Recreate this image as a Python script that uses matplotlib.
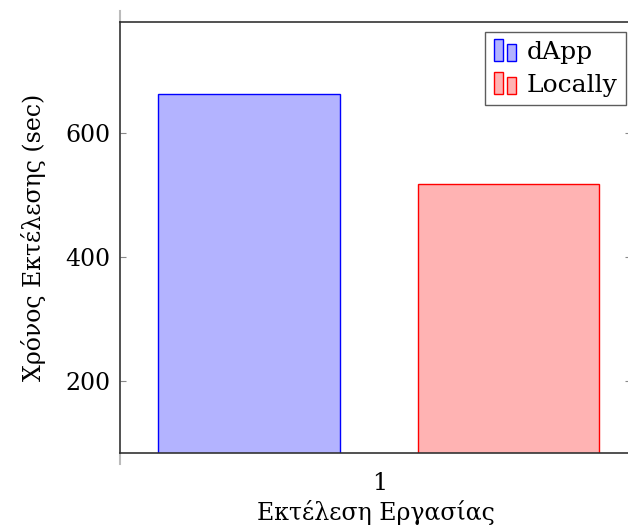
import matplotlib
matplotlib.use("Agg")
import matplotlib.pyplot as plt
from matplotlib.patches import Rectangle
from matplotlib.legend_handler import HandlerBase

plt.rcParams['font.family'] = ['DejaVu Serif']

series = ["dApp", "Locally"]
values = [663, 518]
fills = ["#B3B3FF", "#FFB3B3"]
edges = ["#0000FF", "#FF0000"]
x_cat = [1]
offsets = [-0.2564, 0.2515]


class TwoBarHandler(HandlerBase):
    def create_artists(self, legend, orig, xd, yd, width, height, fontsize, trans):
        w = width * 0.32
        r1 = Rectangle((xd, yd - height * 0.15), w, height * 1.3,
                       facecolor=orig.get_facecolor(), edgecolor=orig.get_edgecolor(), lw=1, transform=trans)
        r2 = Rectangle((xd + w * 1.5, yd - height * 0.15), w, height * 1.0,
                       facecolor=orig.get_facecolor(), edgecolor=orig.get_edgecolor(), lw=1, transform=trans)
        return [r1, r2]


fig = plt.figure(figsize=(6.28, 5.26), dpi=100)
ax = fig.add_axes([120 / 628, (526 - 453) / 526, 511 / 628, (453 - 22) / 526])

handles = []
for i, name in enumerate(series):
    b = ax.bar(x_cat[0] + offsets[i], values[i], width=0.356, bottom=0,
               color=fills[i], edgecolor=edges[i], linewidth=1, label=name)
    handles.append(b.patches[0])

ax.set_xlim(1 - 260 / 511, 1 + 251 / 511)
ax.set_ylim(84, 779)
ax.set_xticks(x_cat)
ax.set_yticks([200, 400, 600])
ax.tick_params(axis='both', direction='in', labelsize=17, length=4, color='#888888')
ax.tick_params(axis='y', right=True, pad=7)
ax.tick_params(axis='x', length=0, pad=14)
for s in ax.spines.values():
    s.set_linewidth(1.2)
    s.set_color('#333333')

# pale extensions of the left axis line
for y0, y1 in [(1.0, 1.025), (0.0, -0.025)]:
    ax.plot([0, 0], [y0, y1], transform=ax.transAxes, color='#bbbbbb', lw=1.5, clip_on=False)

ax.set_ylabel("Χρόνος Εκτέλεσης (sec)", fontsize=17, labelpad=14)
ax.set_xlabel("Εκτέλεση Εργασίας", fontsize=17, labelpad=3)

leg = ax.legend(handles, series, handler_map={h: TwoBarHandler() for h in handles},
                loc='upper right', bbox_to_anchor=(0.99, 0.977), fontsize=18,
                frameon=True, fancybox=False, edgecolor='#333333',
                handlelength=1.1, handletextpad=0.2, borderpad=0.35, labelspacing=0.4,
                borderaxespad=0)
leg.get_frame().set_linewidth(1.0)

fig.savefig("out.png", dpi=100)
